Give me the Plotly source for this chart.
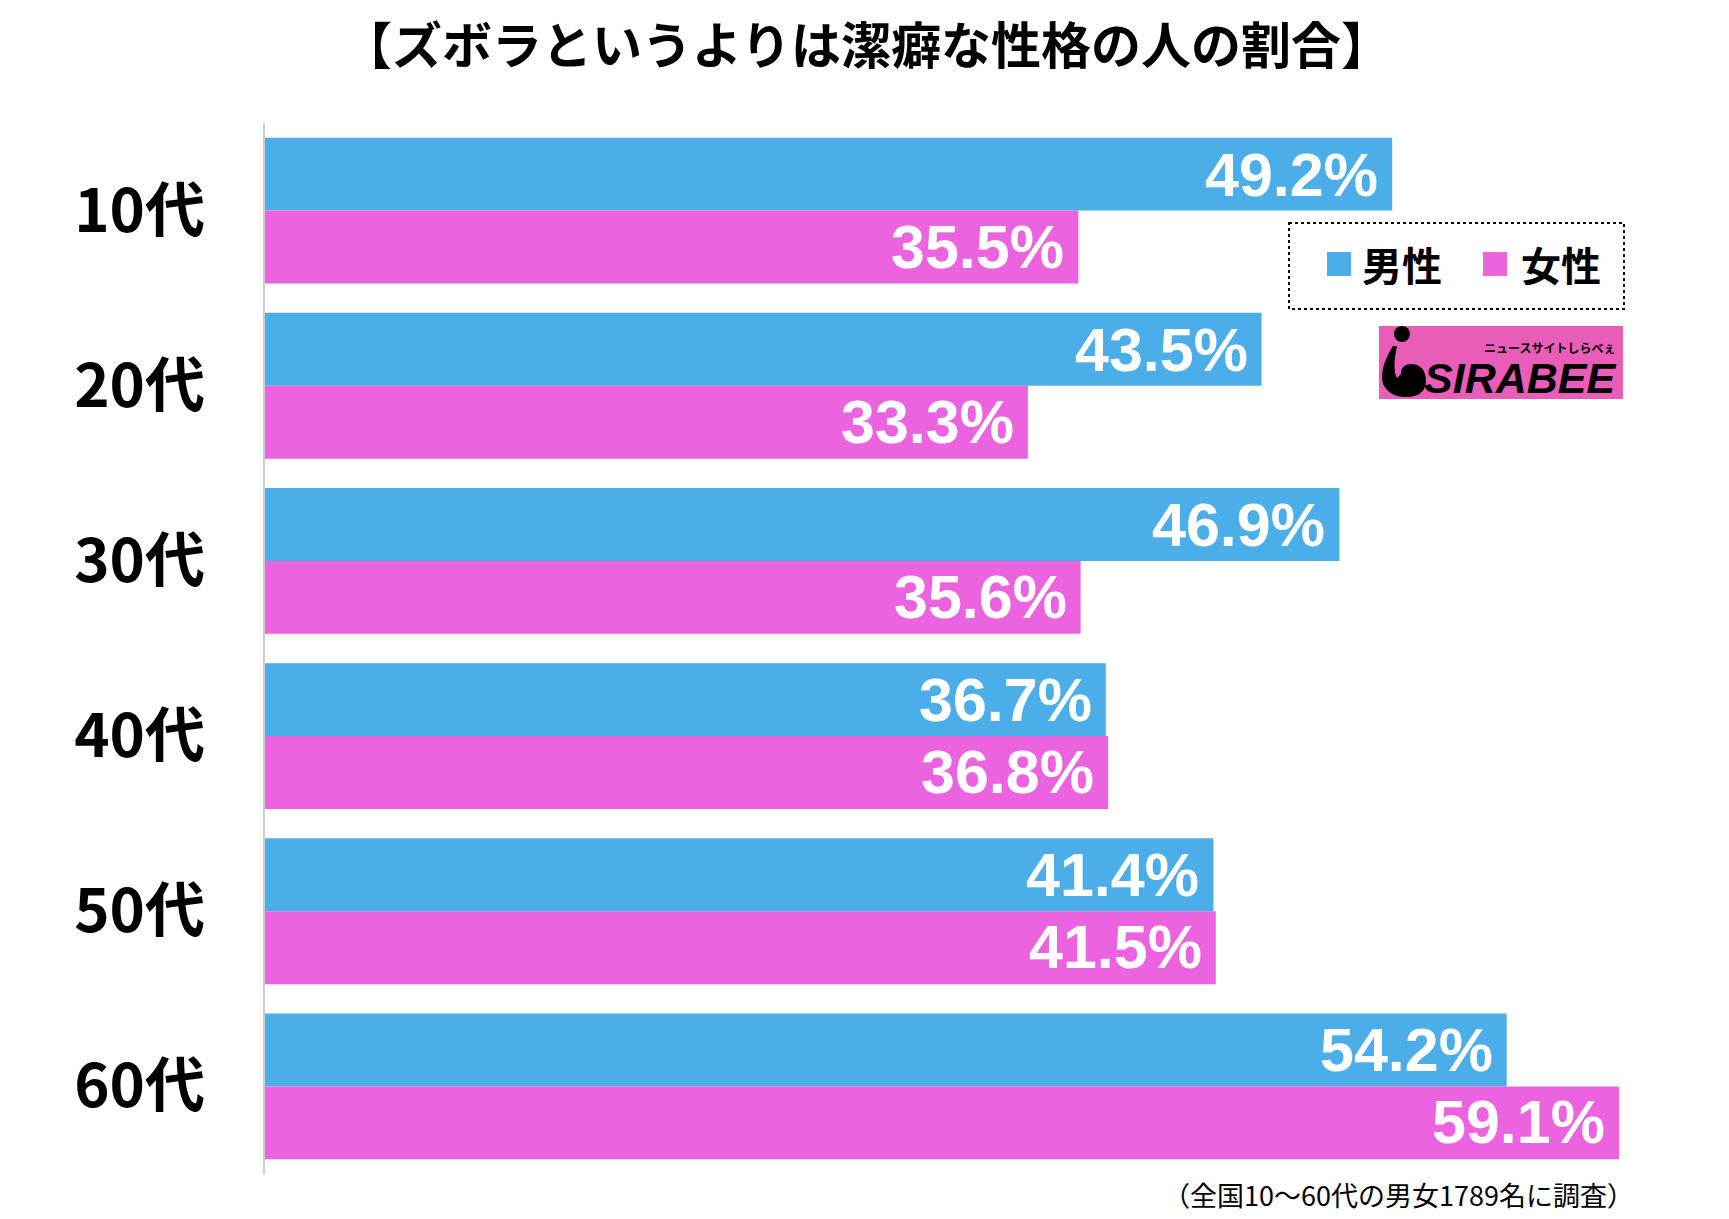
import plotly.graph_objects as go

categories = ["10代", "20代", "30代", "40代", "50代", "60代"]
male = [49.2, 43.5, 46.9, 36.7, 41.4, 54.2]
female = [35.5, 33.3, 35.6, 36.8, 41.5, 59.1]
series_names = ["男性", "女性"]
title_text = "【ズボラというよりは潔癖な性格の人の割合】"
note_text = "（全国10〜60代の男女1789名に調査）"

BLUE = "#4BAEE8"
PINK = "#EC63DF"
LOGO_PINK = "#E95DB9"

W, H = 1729, 1219
L, R, T, B = 265, 0, 123, 45
PW, PH = W - L - R, H - T - B


def px(x):
    return (x - L) / PW


def py(y):
    return (H - B - y) / PH


fig = go.Figure()
fig.add_trace(go.Bar(y=categories, x=male, name=series_names[0], orientation="h",
                     marker=dict(color=BLUE, line=dict(width=0)), hoverinfo="skip"))
fig.add_trace(go.Bar(y=categories, x=female, name=series_names[1], orientation="h",
                     marker=dict(color=PINK, line=dict(width=0)), hoverinfo="skip"))

annotations = []
label_font = dict(family="Liberation Sans, Arial, sans-serif", size=61, color="white")
for cat, v in zip(categories, male):
    annotations.append(dict(x=v, y=cat, xref="x", yref="y", text=f"<b>{v:.1f}%</b>",
                            showarrow=False, xanchor="right", yanchor="middle",
                            xshift=-12, yshift=36, font=label_font))
for cat, v in zip(categories, female):
    annotations.append(dict(x=v, y=cat, xref="x", yref="y", text=f"<b>{v:.1f}%</b>",
                            showarrow=False, xanchor="right", yanchor="middle",
                            xshift=-12, yshift=-36, font=label_font))

# title
annotations.append(dict(x=px(866), y=py(42), xref="paper", yref="paper",
                        text=f"<b>{title_text}</b>", showarrow=False,
                        xanchor="center", yanchor="middle",
                        font=dict(family="Noto Sans CJK JP", size=50, color="black")))
# footnote
annotations.append(dict(x=px(1636), y=py(1194), xref="paper", yref="paper",
                        text=note_text, showarrow=False, xanchor="right", yanchor="middle",
                        font=dict(family="Noto Sans CJK JP", size=27, color="black")))
# legend texts
annotations.append(dict(x=px(1360), y=py(264), xref="paper", yref="paper",
                        text=f"<b>{series_names[0]}</b>", showarrow=False,
                        xanchor="left", yanchor="middle",
                        font=dict(family="Noto Sans CJK JP", size=40, color="black")))
annotations.append(dict(x=px(1519), y=py(264), xref="paper", yref="paper",
                        text=f"<b>{series_names[1]}</b>", showarrow=False,
                        xanchor="left", yanchor="middle",
                        font=dict(family="Noto Sans CJK JP", size=40, color="black")))
# logo texts
annotations.append(dict(x=px(1618), y=py(378), xref="paper", yref="paper",
                        text="<b><i>SIRABEE</i></b>", showarrow=False,
                        xanchor="right", yanchor="middle",
                        font=dict(family="Liberation Sans", size=43, color="black")))
annotations.append(dict(x=px(1617), y=py(347), xref="paper", yref="paper",
                        text="<b>ニュースサイトしらべぇ</b>", showarrow=False,
                        xanchor="right", yanchor="middle",
                        font=dict(family="Noto Sans CJK JP", size=12, color="black")))

shapes = [
    # legend box
    dict(type="rect", xref="paper", yref="paper", x0=px(1289), x1=px(1624), y0=py(223), y1=py(309),
         line=dict(color="black", width=2, dash="dot"), fillcolor="white", layer="above"),
    dict(type="rect", xref="paper", yref="paper", x0=px(1327), x1=px(1351), y0=py(252), y1=py(276),
         line=dict(width=0), fillcolor=BLUE, layer="above"),
    dict(type="rect", xref="paper", yref="paper", x0=px(1483), x1=px(1507), y0=py(252), y1=py(276),
         line=dict(width=0), fillcolor=PINK, layer="above"),
    # logo background
    dict(type="rect", xref="paper", yref="paper", x0=px(1379), x1=px(1623), y0=py(326), y1=py(399),
         line=dict(width=0), fillcolor=LOGO_PINK, layer="above"),
    dict(type="circle", xref="paper", yref="paper", x0=px(1394), x1=px(1410), y0=py(326), y1=py(342),
         line=dict(width=0), fillcolor="black", layer="above"),
]

pts = [("M", 1393, 346), ("Q", 1379, 368, 1383, 384), ("Q", 1390, 398, 1408, 397),
       ("Q", 1426, 396, 1426, 380), ("Q", 1425, 365, 1412, 364), ("Q", 1401, 364, 1401, 374),
       ("L", 1397, 378), ("Q", 1392, 370, 1397, 346)]
path = ""
for p in pts:
    cmd = p[0]
    coords = p[1:]
    s = []
    for i in range(0, len(coords), 2):
        s.append(f"{px(coords[i]):.5f},{py(coords[i+1]):.5f}")
    path += cmd + " " + " ".join(s) + " "
path += "Z"
shapes.append(dict(type="path", xref="paper", yref="paper", path=path,
                   line=dict(width=0), fillcolor="black", layer="above"))

fig.update_layout(
    width=W, height=H,
    margin=dict(l=L, r=R, t=T, b=B, pad=0),
    paper_bgcolor="white", plot_bgcolor="white",
    barmode="group", bargap=0.167, bargroupgap=0,
    showlegend=False,
    xaxis=dict(range=[0, PW / 22.91], visible=False, fixedrange=True),
    yaxis=dict(autorange="reversed", showline=True, linecolor="#CCCCCC", linewidth=2,
               showgrid=False, zeroline=False, ticks="", ticklabelstandoff=46,
               fixedrange=True,
               tickfont=dict(family="Noto Sans CJK JP", size=60, color="black"),
               tickvals=categories, ticktext=[f"<b>{c}</b>" for c in categories]),
    annotations=annotations,
    shapes=shapes,
)

fig.write_html("out.html", config={"displayModeBar": False},
               post_script="document.body.style.margin='0';document.body.style.overflow='hidden';")
